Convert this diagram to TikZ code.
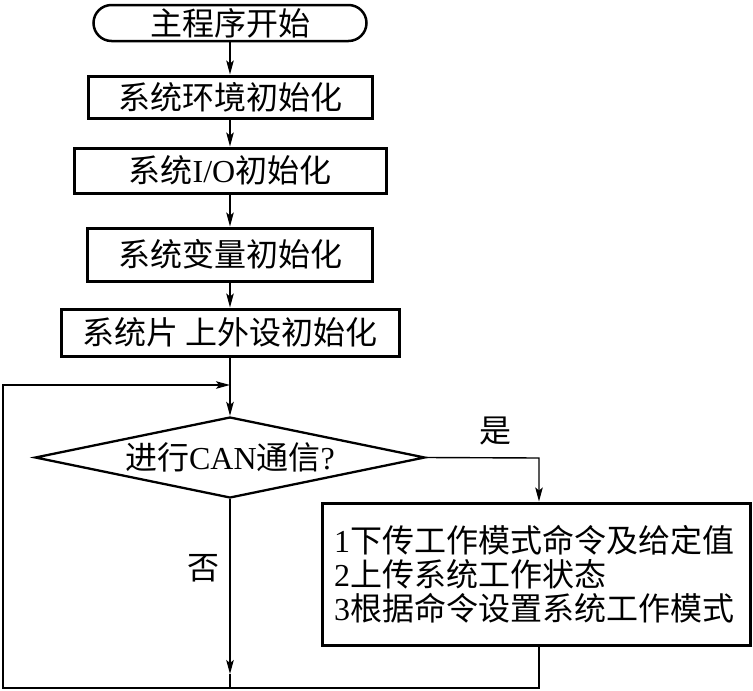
\documentclass[tikz,border=0pt]{standalone}
\usepackage{fontspec}
\setmainfont{Noto Sans CJK SC}
\newfontfamily\lat{Liberation Serif}
\usetikzlibrary{arrows.meta,shapes.geometric}
\begin{document}
\begin{tikzpicture}[x=1pt,y=-1pt,
  font=\fontsize{32}{34}\selectfont,
  box/.style={draw,line width=3pt,inner sep=0pt,anchor=center},
  arr/.style={line width=1.4pt,-{Stealth[length=14pt,width=7.5pt,inset=3pt]}},
  ln/.style={line width=1.4pt},
  lbl/.style={inner sep=0pt,anchor=center}]
\useasboundingbox (0,0) rectangle (753,691);
\node[box,line width=2.5pt,rounded corners=18pt,minimum width=273pt,minimum height=36pt] (start) at (230,23) {主程序开始};
\node[box,minimum width=284pt,minimum height=42pt] (b1) at (230,97) {系统环境初始化};
\node[box,minimum width=312pt,minimum height=45pt] (b2) at (230,170.5) {系统{\lat I/O}初始化};
\node[box,minimum width=285pt,minimum height=53pt] (b3) at (230,254.5) {系统变量初始化};
\node[box,minimum width=338pt,minimum height=47pt] (b4) at (230,332.5) {系统片 上外设初始化};
\node[box,line width=2.3pt,shape=diamond,shape aspect=4.8,minimum width=390pt,minimum height=81pt] (dia) at (230,457.5) {进行{\lat CAN}通信{\lat ?}};
\node[box,minimum width=428pt,minimum height=142pt,inner xsep=12pt,text width=404pt,align=left] (b5) at (536,574) {{\lat 1}下传工作模式命令及给定值\\{\lat 2}上传系统工作状态\\{\lat 3}根据命令设置系统工作模式};
\node[lbl] (yes) at (495,431) {是};
\node[lbl] (no) at (203,568) {否};
\coordinate (join) at (230,385);
\coordinate (yc) at (539,458);
\coordinate (ntip) at (230,674);
\coordinate (nb) at (230,688);
\coordinate (br) at (539,688);
\coordinate (bl) at (3,688);
\coordinate (tl) at (3,385);
\draw[arr] (start.south) -- (b1.north);
\draw[arr] (b1.south) -- (b2.north);
\draw[arr] (b2.south) -- (b3.north);
\draw[arr] (b3.south) -- (b4.north);
\draw[arr] (b4.south) -- (dia.north);
\draw[arr] (dia.east) -- (yc) -- (yc |- b5.north);
\draw[arr] (dia.south) -- (ntip);
\draw[ln] (ntip) -- (nb);
\draw[arr] (yc |- b5.south) -- (br) -- (bl) -- (tl) -- (join);
\end{tikzpicture}
\end{document}
